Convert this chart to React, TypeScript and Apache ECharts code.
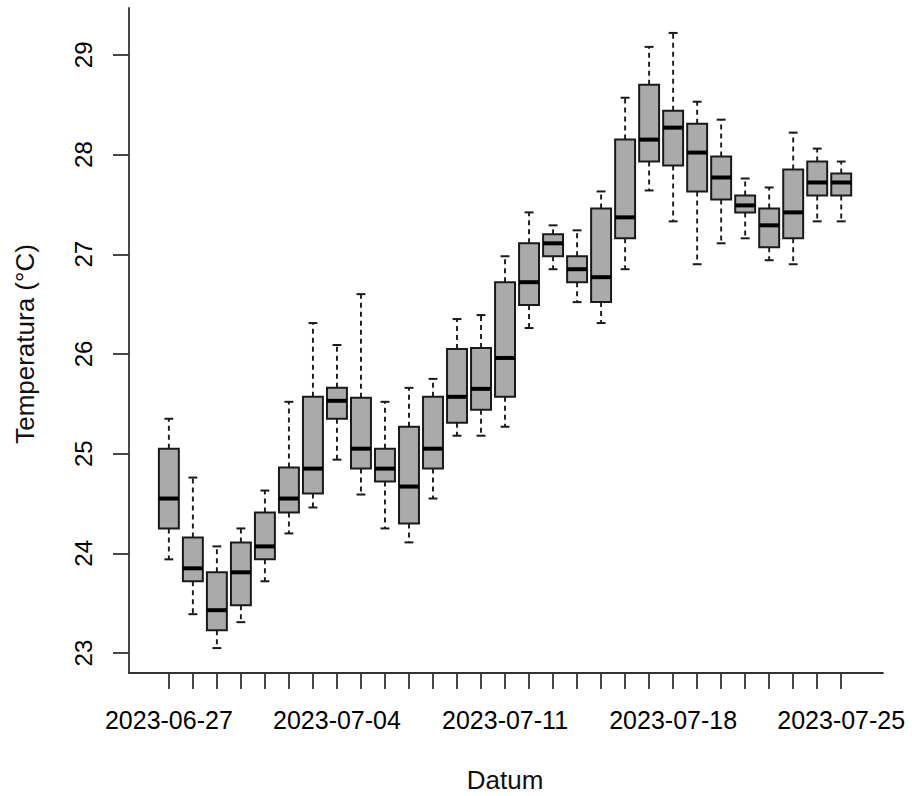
import React, { useEffect, useRef } from "react";
import * as echarts from "echarts";

// Days of the measurement period (one box per day)
const dates: string[] = [
  "2023-06-27", "2023-06-28", "2023-06-29", "2023-06-30", "2023-07-01",
  "2023-07-02", "2023-07-03", "2023-07-04", "2023-07-05", "2023-07-06",
  "2023-07-07", "2023-07-08", "2023-07-09", "2023-07-10", "2023-07-11",
  "2023-07-12", "2023-07-13", "2023-07-14", "2023-07-15", "2023-07-16",
  "2023-07-17", "2023-07-18", "2023-07-19", "2023-07-20", "2023-07-21",
  "2023-07-22", "2023-07-23", "2023-07-24", "2023-07-25",
];

// Box statistics (°C)
const whiskerLow: number[] = [
  23.94, 23.39, 23.05, 23.31, 23.72, 24.20, 24.46, 24.94, 24.59, 24.25,
  24.11, 24.55, 25.18, 25.18, 25.27, 26.26, 26.85, 26.52, 26.31, 26.85,
  27.64, 27.33, 26.90, 27.11, 27.16, 26.94, 26.90, 27.33, 27.33,
];
const q1: number[] = [
  24.25, 23.72, 23.23, 23.48, 23.94, 24.41, 24.60, 25.35, 24.85, 24.72,
  24.30, 24.85, 25.31, 25.44, 25.57, 26.49, 26.98, 26.72, 26.52, 27.16,
  27.93, 27.89, 27.63, 27.55, 27.42, 27.07, 27.16, 27.59, 27.59,
];
const median: number[] = [
  24.55, 23.85, 23.43, 23.81, 24.07, 24.55, 24.85, 25.53, 25.05, 24.85,
  24.67, 25.05, 25.57, 25.65, 25.96, 26.72, 27.11, 26.85, 26.77, 27.37,
  28.15, 28.27, 28.02, 27.77, 27.49, 27.29, 27.42, 27.72, 27.72,
];
const q3: number[] = [
  25.05, 24.16, 23.81, 24.11, 24.41, 24.86, 25.57, 25.66, 25.56, 25.05,
  25.27, 25.57, 26.05, 26.06, 26.72, 27.11, 27.20, 26.98, 27.46, 28.15,
  28.70, 28.44, 28.31, 27.98, 27.59, 27.46, 27.85, 27.93, 27.81,
];
const whiskerHigh: number[] = [
  25.35, 24.76, 24.07, 24.25, 24.63, 25.52, 26.31, 26.09, 26.60, 25.52,
  25.66, 25.75, 26.35, 26.39, 26.98, 27.42, 27.29, 27.24, 27.63, 28.57,
  29.08, 29.22, 28.53, 28.35, 27.76, 27.67, 28.22, 28.06, 27.93,
];

const yTicks: number[] = [23, 24, 25, 26, 27, 28, 29];
const xLabelDays: number[] = [0, 7, 14, 21, 28];

const FONT = "'Liberation Sans', Arial, sans-serif";

export default function App() {
  const ref = useRef<HTMLDivElement>(null);

  useEffect(() => {
    if (!ref.current) return;
    const chart = echarts.init(ref.current, undefined, { renderer: "svg" });

    const data = dates.map((_, i) => [
      i,
      whiskerLow[i],
      q1[i],
      median[i],
      q3[i],
      whiskerHigh[i],
    ]);

    const BOX_W = 0.83;
    const CAP_W = 0.37;

    const renderItem = (params: any, api: any) => {
      const x = api.value(0);
      const lo = api.coord([x, api.value(1)]);
      const b1 = api.coord([x, api.value(2)]);
      const md = api.coord([x, api.value(3)]);
      const b3 = api.coord([x, api.value(4)]);
      const hi = api.coord([x, api.value(5)]);
      const half = api.size([BOX_W, 0])[0] / 2;
      const capHalf = api.size([CAP_W, 0])[0] / 2;
      const cx = lo[0];
      const dashed = {
        stroke: "#1a1a1a",
        lineWidth: 1.9,
        lineDash: [5, 4],
        fill: null,
      };
      const solid = { stroke: "#1a1a1a", lineWidth: 2, fill: null };
      return {
        type: "group",
        children: [
          {
            type: "line",
            shape: { x1: cx, y1: b3[1], x2: cx, y2: hi[1] },
            style: dashed,
          },
          {
            type: "line",
            shape: { x1: cx, y1: b1[1], x2: cx, y2: lo[1] },
            style: dashed,
          },
          {
            type: "line",
            shape: { x1: cx - capHalf, y1: hi[1], x2: cx + capHalf, y2: hi[1] },
            style: solid,
          },
          {
            type: "line",
            shape: { x1: cx - capHalf, y1: lo[1], x2: cx + capHalf, y2: lo[1] },
            style: solid,
          },
          {
            type: "rect",
            shape: {
              x: cx - half,
              y: b3[1],
              width: half * 2,
              height: b1[1] - b3[1],
            },
            style: { fill: "#aaaaaa", stroke: "#1a1a1a", lineWidth: 2 },
          },
          {
            type: "line",
            shape: { x1: cx - half, y1: md[1], x2: cx + half, y2: md[1] },
            style: { stroke: "#000", lineWidth: 4 },
          },
        ],
      };
    };

    chart.setOption({
      animation: false,
      backgroundColor: "#ffffff",
      grid: { left: 129, right: 29, top: 8, bottom: 123, containLabel: false },
      xAxis: {
        type: "value",
        min: -1.66,
        max: 29.74,
        axisLine: { show: true, onZero: false, lineStyle: { color: "#333", width: 1.8 } },
        axisTick: {
          show: true,
          inside: false,
          length: 16,
          customValues: dates.map((_, i) => i),
          lineStyle: { color: "#333", width: 1.8 },
        },
        axisLabel: {
          show: true,
          customValues: xLabelDays,
          formatter: (v: number) => dates[Math.round(v)] ?? "",
          fontFamily: FONT,
          fontSize: 25,
          color: "#000",
          margin: 34,
        },
        splitLine: { show: false },
      },
      yAxis: {
        type: "value",
        min: 22.8,
        max: 29.47,
        axisLine: { show: true, onZero: false, lineStyle: { color: "#333", width: 1.8 } },
        axisTick: {
          show: true,
          inside: false,
          length: 16,
          customValues: yTicks,
          lineStyle: { color: "#333", width: 1.8 },
        },
        axisLabel: {
          show: true,
          customValues: yTicks,
          rotate: 90,
          formatter: (v: number) => String(Math.round(v)),
          fontFamily: FONT,
          fontSize: 24,
          color: "#000",
          margin: 34,
        },
        splitLine: { show: false },
      },
      graphic: [
        {
          type: "text",
          x: 25,
          y: 344,
          rotation: Math.PI / 2,
          style: {
            text: "Temperatura (°C)",
            fontFamily: FONT,
            fontSize: 26,
            fill: "#111",
            textAlign: "center",
            textVerticalAlign: "middle",
          },
        },
        {
          type: "text",
          x: 505,
          y: 780,
          style: {
            text: "Datum",
            fontFamily: FONT,
            fontSize: 26,
            fill: "#111",
            textAlign: "center",
            textVerticalAlign: "middle",
          },
        },
      ],
      series: [
        {
          type: "custom",
          renderItem,
          data,
          encode: { x: 0, y: [1, 2, 3, 4, 5] },
          clip: false,
        },
      ],
    });

    return () => chart.dispose();
  }, []);

  return (
    <div
      ref={ref}
      style={{ position: "fixed", left: 0, top: 0, width: 912, height: 796, background: "#fff" }}
    />
  );
}
